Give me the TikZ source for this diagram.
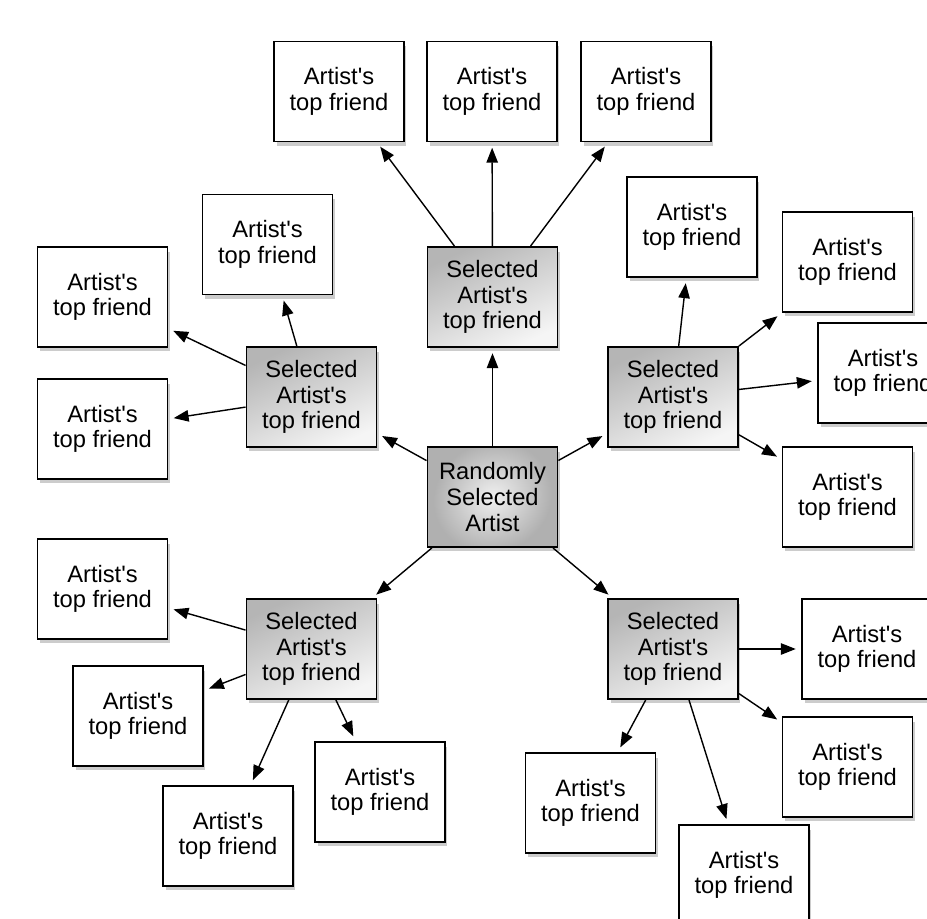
\documentclass[tikz,border=0pt]{standalone}
\usepackage{fontspec}
\setmainfont{Liberation Sans}
\usetikzlibrary{arrows.meta,shadows}

\begin{document}
\begin{tikzpicture}[x=0.02cm, y=-0.02cm,
    box/.style={draw, line width=1.1pt, minimum width=2.6cm, minimum height=2cm,
        align=center, font=\fontsize{13.5}{14.6}\selectfont,
        drop shadow={shadow xshift=0.05cm, shadow yshift=-0.09cm, opacity=0.4}},
    friend/.style={box, fill=white},
    selected/.style={box, top color=gray!58, bottom color=gray!8, shading angle=25},
    link/.style={line width=0.8pt, -{Triangle[length=8.5pt,width=6.5pt]}, shorten >=3pt}]
    \useasboundingbox (0,0) rectangle (927,919);
    \clip (0,0) rectangle (927,919);

    % Centre
    \node[selected, shading=radial, inner color=gray!12, outer color=gray!62] (rand) at (492.5,497) {Randomly\\Selected\\Artist};

    % Selected artists
    \node[selected] (selT) at (492.5,297) {Selected\\Artist\textquotesingle s\\top friend};
    \node[selected] (selL) at (311.5,397) {Selected\\Artist\textquotesingle s\\top friend};
    \node[selected] (selR) at (673,397) {Selected\\Artist\textquotesingle s\\top friend};
    \node[selected] (selBL) at (311.5,649) {Selected\\Artist\textquotesingle s\\top friend};
    \node[selected] (selBR) at (673,649) {Selected\\Artist\textquotesingle s\\top friend};

    % Top friends
    \foreach \n/\x/\y in {t1/339/91.5, t2/492/91.5, t3/646/91.5,
                          l1/267.5/244.5, l2/102.5/297, l3/102.5/429,
                          r1/692/227, r2/847.5/262, r3/883/373, r4/847.5/497,
                          bl1/102.5/589, bl2/138/716, bl3/228/836, bl4/380/792,
                          br1/867/649, br2/847.5/767, br3/590.5/803, br4/744/875} {
        \node[friend] (\n) at (\x,\y) {Artist\textquotesingle s\\top friend};
    }

    % Arrows
    \foreach \s in {selT, selL, selR, selBL, selBR} {
        \draw[link] (rand) -- (\s);
    }
    \foreach \s/\t in {selT/t1, selT/t2, selT/t3,
                       selL/l1, selL/l2, selL/l3,
                       selR/r1, selR/r2, selR/r3, selR/r4,
                       selBL/bl1, selBL/bl2, selBL/bl3, selBL/bl4,
                       selBR/br1, selBR/br2, selBR/br3, selBR/br4} {
        \draw[link] (\s) -- (\t);
    }
\end{tikzpicture}
\end{document}
